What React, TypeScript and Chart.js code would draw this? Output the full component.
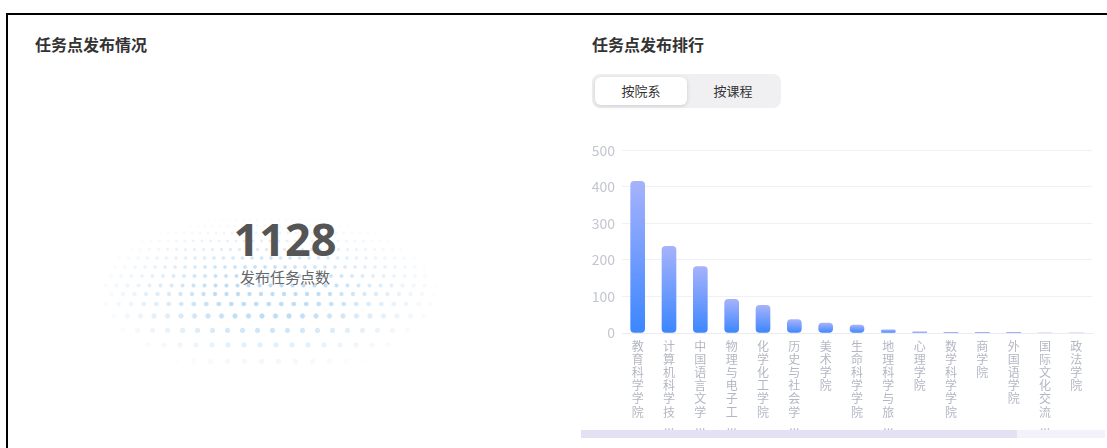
import React, { useEffect, useRef } from "react";
import { Chart, registerables } from "chart.js";

Chart.register(...registerables);

const categories: string[] = [
  "教育科学学院",
  "计算机科学技术学院",
  "中国语言文学学院",
  "物理与电子工程学院",
  "化学化工学院",
  "历史与社会学院",
  "美术学院",
  "生命科学学院",
  "地理科学与旅游学院",
  "心理学院",
  "数学科学学院",
  "商学院",
  "外国语学院",
  "国际文化交流学院",
  "政法学院",
];
const values: number[] = [415, 237, 182, 92, 76, 37, 27, 22, 9, 3, 2, 2, 1, 0, 0];
const yTicks: number[] = [0, 100, 200, 300, 400, 500];
const totalCount = 1128;

const FONT = "'Noto Sans CJK SC', 'Noto Sans', sans-serif";

// decorative dot rows: [top, spacing, radius, alpha]
const DOT_ROWS: [number, number, number, number][] = [
  [207, 6, 0.6, 0.2],
  [213, 6.5, 0.7, 0.25],
  [219, 7, 0.8, 0.3],
  [226, 7.5, 0.9, 0.32],
  [233, 8, 1.0, 0.35],
  [241, 8.5, 1.1, 0.38],
  [249, 9, 1.2, 0.4],
  [258, 9.5, 1.3, 0.42],
  [267, 10, 1.4, 0.45],
  [276, 10.5, 1.5, 0.48],
  [285, 11, 1.6, 0.5],
  [294, 11.5, 1.7, 0.5],
  [304, 12.5, 1.9, 0.5],
  [316, 13.5, 2.1, 0.5],
  [330, 15, 2.2, 0.45],
  [345, 16, 2.2, 0.4],
  [361, 17, 2.2, 0.35],
];

function verticalLabel(name: string): string[] {
  const chars = Array.from(name);
  if (chars.length > 6) return chars.slice(0, 6).concat(["..."]);
  return chars;
}

function BarChart() {
  const ref = useRef<HTMLCanvasElement | null>(null);
  useEffect(() => {
    if (!ref.current) return;
    const chart = new Chart(ref.current, {
      type: "bar",
      data: {
        labels: categories.map(verticalLabel),
        datasets: [
          {
            data: values,
            barThickness: 14,
            borderRadius: 4,
            borderSkipped: false,
            backgroundColor: (ctx: any) => {
              const c = ctx.chart;
              const area = c.chartArea;
              if (!area || ctx.dataIndex === undefined) return "#5b8ffb";
              const ys = c.scales.y;
              const v = ctx.raw as number;
              const top = ys.getPixelForValue(v);
              const bot = ys.getPixelForValue(0);
              if (bot - top < 1) return "#7a9cf6";
              const g = c.ctx.createLinearGradient(0, top, 0, bot);
              g.addColorStop(0, "#a6b2fb");
              g.addColorStop(1, "#3b86ff");
              return g;
            },
          },
        ],
      },
      options: {
        animation: false,
        responsive: false,
        maintainAspectRatio: false,
        layout: { padding: { top: 5, right: 8, left: 0, bottom: 0 } },
        plugins: { legend: { display: false }, tooltip: { enabled: false } },
        scales: {
          x: {
            grid: { display: false, drawTicks: false },
            border: { display: true, color: "#ececf0" },
            ticks: {
              autoSkip: false,
              maxRotation: 0,
              minRotation: 0,
              padding: 7,
              color: "#b4b7c3",
              font: { family: FONT, size: 12, lineHeight: 1.09 },
            },
            afterFit: (s: any) => {
              s.height = 107;
            },
          },
          y: {
            min: 0,
            max: 500,
            afterBuildTicks: (s: any) => {
              s.ticks = yTicks.map((v) => ({ value: v }));
            },
            grid: { color: "#f1f1f4", drawTicks: false },
            border: { display: false },
            ticks: {
              padding: 7,
              color: "#c3c6cf",
              font: { family: FONT, size: 14 },
            },
            afterFit: (s: any) => {
              s.width = 42;
            },
          },
        },
      },
    });
    return () => chart.destroy();
  }, []);
  return <canvas ref={ref} width={520} height={305} style={{ width: 520, height: 305, display: "block" }} />;
}

function DotField() {
  const left = 100;
  const top = 198;
  const mask = "radial-gradient(ellipse 50% 50% at 48% 55%, rgba(0,0,0,1) 30%, rgba(0,0,0,0) 100%)";
  return (
    <div
      style={{
        position: "absolute",
        left,
        top,
        width: 350,
        height: 172,
        overflow: "hidden",
        WebkitMaskImage: mask,
        maskImage: mask,
      }}
    >
      {DOT_ROWS.map(([y, sp, r, a], i) => (
        <div
          key={i}
          style={{
            position: "absolute",
            left: 0,
            top: y - top - sp / 2,
            width: 350,
            height: sp,
            backgroundImage: `radial-gradient(circle, rgba(125,188,236,${a}) ${r}px, rgba(125,188,236,0) ${r + 0.8}px)`,
            backgroundSize: `${sp}px ${sp}px`,
            backgroundPosition: `${(i % 2) * sp * 0.5}px 0px`,
          }}
        />
      ))}
    </div>
  );
}

export default function App() {
  return (
    <div
      style={{
        position: "fixed",
        left: 0,
        top: 0,
        width: 1107,
        height: 448,
        overflow: "hidden",
        background: "#fff",
        fontFamily: FONT,
      }}
    >
      <div
        style={{
          position: "absolute",
          left: 6,
          top: 13,
          width: 1300,
          height: 600,
          border: "2px solid #000",
          boxSizing: "border-box",
        }}
      />
      <div style={{ position: "absolute", left: 35, top: 33, fontSize: 16, fontWeight: 700, color: "#333", lineHeight: "22px" }}>
        任务点发布情况
      </div>
      <DotField />
      <div
        style={{
          position: "absolute",
          left: 185,
          width: 200,
          top: 212,
          textAlign: "center",
          fontSize: 45,
          fontWeight: 700,
          color: "#555",
          lineHeight: "54px",
          fontFamily: "'Open Sans', 'Noto Sans', sans-serif",
        }}
      >
        {totalCount}
      </div>
      <div style={{ position: "absolute", left: 185, width: 200, top: 266, textAlign: "center", fontSize: 15, color: "#666", lineHeight: "22px" }}>
        发布任务点数
      </div>

      <div style={{ position: "absolute", left: 592, top: 33, fontSize: 16, fontWeight: 700, color: "#333", lineHeight: "22px" }}>
        任务点发布排行
      </div>
      <div style={{ position: "absolute", left: 592, top: 74, width: 189, height: 34, background: "#f0f0f3", borderRadius: 8 }} />
      <div
        style={{
          position: "absolute",
          left: 595,
          top: 77,
          width: 92,
          height: 28,
          background: "#fff",
          borderRadius: 6,
          boxShadow: "0 1px 4px rgba(0,0,0,0.15)",
          textAlign: "center",
          lineHeight: "28px",
          fontSize: 13,
          color: "#333",
        }}
      >
        按院系
      </div>
      <div style={{ position: "absolute", left: 687, top: 77, width: 92, height: 28, textAlign: "center", lineHeight: "28px", fontSize: 13, color: "#333" }}>
        按课程
      </div>

      <div style={{ position: "absolute", left: 580, top: 135 }}>
        <BarChart />
      </div>
      <div style={{ position: "absolute", left: 581, top: 430, width: 524, height: 8, background: "#f3f1fa" }} />
      <div style={{ position: "absolute", left: 581, top: 430, width: 436, height: 8, background: "#e4e1f5" }} />
    </div>
  );
}
